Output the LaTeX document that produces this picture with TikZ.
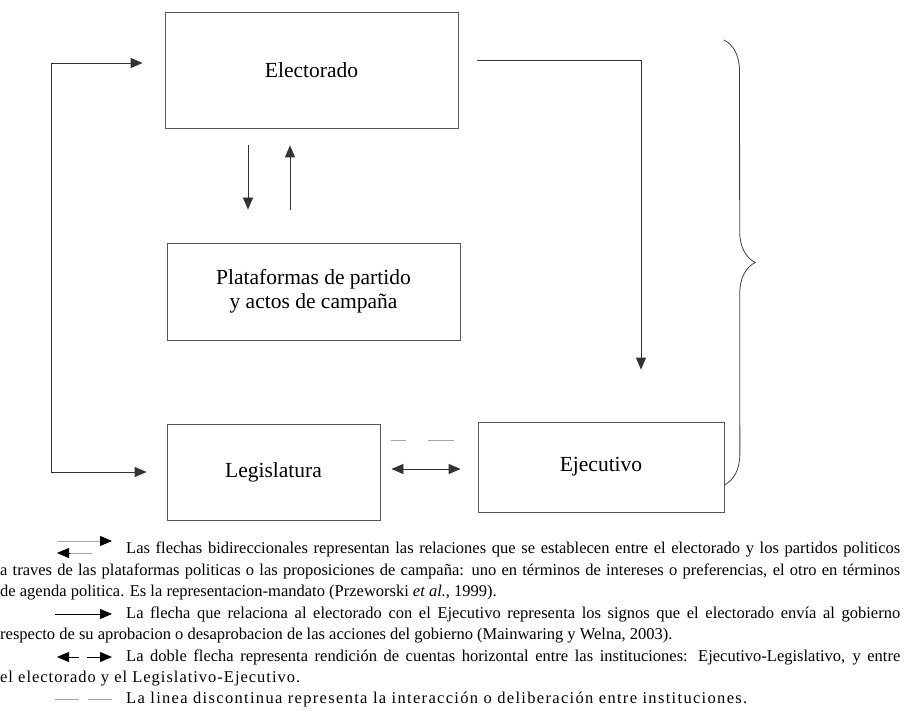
\documentclass[tikz,border=0pt]{standalone}
\usepackage{fontspec}
\setmainfont{Liberation Serif}
\usetikzlibrary{arrows.meta,decorations.pathreplacing}
\begin{document}
\begin{tikzpicture}[x=1pt,y=-1pt,
    caja/.style={draw=black!65,line width=0.8pt,inner sep=0pt,font=\fontsize{21.5}{24}\selectfont},
    flecha/.style={line width=0.8pt,draw=black!80,-{Triangle[length=12pt,width=10pt]}},
    dflecha/.style={line width=0.8pt,draw=black!80,{Triangle[length=12pt,width=10pt]}-{Triangle[length=12pt,width=10pt]}},
    discont/.style={line width=0.8pt,draw=black!35,dash pattern=on 15pt off 22pt on 26pt off 10pt},
    nota/.style={anchor=base west,inner sep=0pt,font=\fontsize{16.5}{18}\selectfont}]
    \useasboundingbox (0,0) rectangle (905,711);
    % cajas
    \node[caja,minimum width=293pt,minimum height=116pt] (elec) at (311.5,70) {Electorado};
    \node[caja,minimum width=293pt,minimum height=97pt,align=center] (plat) at (313.5,291.5) {Plataformas de partido\\y actos de campaña};
    \node[caja,minimum width=213pt,minimum height=96pt] (legis) at (273.5,472) {Legislatura};
    \node[caja,minimum width=246pt,minimum height=90pt] (ejec) at (601,467) {Ejecutivo};
    % flechas entre electorado y plataformas
    \draw[flecha] ([xshift=-63.5pt,yshift=-17pt]elec.south) -- ([xshift=-65.5pt,yshift=33pt]plat.north);
    \draw[flecha] ([xshift=-23.5pt,yshift=33pt]plat.north) -- ([xshift=-21.5pt,yshift=-17pt]elec.south);
    % lazo izquierdo
    \draw[dflecha] ([xshift=-22pt,yshift=7pt]elec.west) -| ([xshift=-115pt]legis.west) -- ([xshift=-20pt]legis.west);
    % electorado hacia ejecutivo
    \draw[flecha] ([xshift=19pt,yshift=10pt]elec.east) -| ([xshift=40pt,yshift=52pt]ejec.north);
    % legislatura y ejecutivo
    \draw[dflecha] ([xshift=11pt,yshift=3pt]legis.east) -- ([xshift=-17pt,yshift=-2pt]ejec.west);
    \draw[discont] ([xshift=11pt,yshift=32pt]legis.east) -- ([xshift=-24pt,yshift=27pt]ejec.west);
    % llave
    \coordinate (brtop) at (724,40);
    \coordinate (brbot) at ([yshift=-18pt]ejec.east);
    \draw[line width=0.8pt,black!75,decorate,decoration={brace,amplitude=31pt}] (brtop) -- (brbot);
    % leyenda
    \coordinate (s1a) at (58,541); \coordinate (s1b) at (112,541);
    \draw[line width=0.8pt,black!35] (s1a) -- ([xshift=-10pt]s1b);
    \draw[line width=0.8pt,-{Triangle[length=12pt,width=10pt]}] ([xshift=-12pt]s1b) -- (s1b);
    \coordinate (s2a) at (57,553); \coordinate (s2b) at (92,553);
    \draw[line width=0.8pt,black!35] (s2b) -- ([xshift=10pt]s2a);
    \draw[line width=0.8pt,-{Triangle[length=12pt,width=10pt]}] ([xshift=12pt]s2a) -- (s2a);
    \node[nota] (n1) at (126,553) {\makebox[774pt][s]{Las flechas bidireccionales representan las relaciones que se establecen entre el electorado y los partidos politicos}};
    \node[nota] (n2) at (0,575) {\makebox[900pt][s]{a traves de las plataformas politicas o las proposiciones de campaña: uno en términos de intereses o preferencias, el otro en términos}};
    \node[nota] (n3) at (0,596.5) {de agenda politica. Es la representacion-mandato (Przeworski \textit{et al.}, 1999).};
    \coordinate (s3a) at (55,614); \coordinate (s3b) at (112,614);
    \draw[line width=0.8pt,-{Triangle[length=12pt,width=10pt]}] (s3a) -- (s3b);
    \node[nota] (n4) at (126,618) {\makebox[774pt][s]{La flecha que relaciona al electorado con el Ejecutivo representa los signos que el electorado envía al gobierno}};
    \node[nota] (n5) at (0,639.5) {respecto de su aprobacion o desaprobacion de las acciones del gobierno (Mainwaring y Welna, 2003).};
    \coordinate (s4a) at (57,657); \coordinate (s4b) at (112,657);
    \draw[line width=0.8pt,-{Triangle[length=12pt,width=10pt]}] ([xshift=22pt]s4a) -- (s4a);
    \draw[line width=0.8pt,-{Triangle[length=12pt,width=10pt]}] ([xshift=-25pt]s4b) -- (s4b);
    \node[nota] (n6) at (126,661) {\makebox[774pt][s]{La doble flecha representa rendición de cuentas horizontal entre las instituciones: Ejecutivo-Legislativo, y entre}};
    \node[nota] (n7) at (0,682) {\addfontfeature{LetterSpace=6}el electorado y el Legislativo-Ejecutivo.};
    \coordinate (s5a) at (55,699); \coordinate (s5b) at (112,699);
    \draw[line width=0.8pt,black!35,dash pattern=on 24pt off 9pt] (s5a) -- (s5b);
    \node[nota] (n8) at (126,703) {\addfontfeature{LetterSpace=8}La linea discontinua representa la interacción o deliberación entre instituciones.};
\end{tikzpicture}
\end{document}
